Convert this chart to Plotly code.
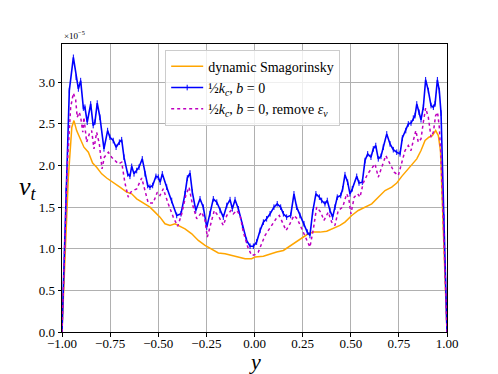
import plotly.graph_objects as go

# eddy viscosity profiles, values in units of 1e-5
y_dyn = [-1.0, -0.984, -0.967, -0.949, -0.938, -0.924, -0.906, -0.886, -0.863, -0.841,
         -0.820, -0.794, -0.768, -0.734, -0.699, -0.664, -0.638, -0.612, -0.578, -0.543,
         -0.517, -0.491, -0.465, -0.439, -0.413, -0.387, -0.361, -0.326, -0.292, -0.257,
         -0.222, -0.188, -0.153, -0.118, -0.084, -0.049, -0.015, 0.003, 0.046, 0.081,
         0.115, 0.150, 0.176, 0.202, 0.228, 0.254, 0.279, 0.306, 0.340, 0.375,
         0.409, 0.444, 0.470, 0.505, 0.539, 0.574, 0.609, 0.643, 0.678, 0.713,
         0.739, 0.765, 0.791, 0.817, 0.843, 0.865, 0.886, 0.906, 0.924, 0.941,
         0.955, 0.966, 0.976, 0.986, 1.0]
nu_dyn = [0.0, 0.98, 1.86, 2.46, 2.54, 2.42, 2.32, 2.22, 2.16, 2.03,
          1.98, 1.90, 1.85, 1.80, 1.74, 1.68, 1.66, 1.60, 1.55, 1.50,
          1.44, 1.38, 1.30, 1.28, 1.30, 1.27, 1.24, 1.18, 1.10, 1.04,
          0.99, 0.95, 0.94, 0.92, 0.90, 0.88, 0.88, 0.90, 0.91, 0.94,
          0.96, 0.98, 1.02, 1.06, 1.11, 1.15, 1.18, 1.20, 1.20, 1.21,
          1.24, 1.28, 1.32, 1.40, 1.46, 1.50, 1.54, 1.62, 1.70, 1.74,
          1.79, 1.87, 1.94, 2.00, 2.08, 2.18, 2.30, 2.34, 2.36, 2.42,
          2.36, 2.18, 1.58, 0.98, 0.0]

y_kc = [-1.0, -0.979, -0.962, -0.941, -0.927, -0.915, -0.903, -0.889, -0.881, -0.869,
        -0.851, -0.838, -0.829, -0.817, -0.803, -0.782, -0.763, -0.751, -0.734, -0.719,
        -0.702, -0.690, -0.678, -0.659, -0.647, -0.638, -0.626, -0.612, -0.600, -0.583,
        -0.569, -0.555, -0.543, -0.529, -0.512, -0.500, -0.490, -0.479, -0.456, -0.430,
        -0.404, -0.382, -0.361, -0.349, -0.335, -0.323, -0.305, -0.283, -0.266, -0.248,
        -0.231, -0.214, -0.196, -0.179, -0.162, -0.144, -0.127, -0.115, -0.101, -0.084,
        -0.063, -0.041, -0.023, -0.006, 0.011, 0.029, 0.046, 0.063, 0.081, 0.101,
        0.118, 0.136, 0.150, 0.167, 0.188, 0.205, 0.219, 0.236, 0.257, 0.274,
        0.288, 0.302, 0.319, 0.337, 0.349, 0.366, 0.378, 0.392, 0.406, 0.418,
        0.430, 0.448, 0.458, 0.470, 0.484, 0.496, 0.508, 0.531, 0.543, 0.560,
        0.574, 0.588, 0.605, 0.617, 0.630, 0.643, 0.657, 0.669, 0.687, 0.704,
        0.721, 0.739, 0.756, 0.768, 0.786, 0.799, 0.813, 0.825, 0.834, 0.843,
        0.855, 0.865, 0.877, 0.889, 0.903, 0.917, 0.929, 0.938, 0.950, 0.960,
        0.969, 0.976, 0.984, 0.993, 1.0]
nu_kc = [0.0, 1.70, 2.90, 3.30, 3.06, 2.92, 3.02, 2.69, 2.70, 2.52,
         2.74, 2.48, 2.52, 2.75, 2.58, 2.20, 2.42, 2.34, 2.30, 2.22,
         2.28, 2.31, 2.10, 1.90, 1.87, 1.99, 1.90, 1.94, 1.98, 2.08,
         1.90, 1.76, 1.74, 1.76, 1.87, 1.86, 1.80, 1.90, 1.74, 1.58,
         1.40, 1.42, 1.66, 1.85, 1.91, 1.68, 1.46, 1.60, 1.50, 1.26,
         1.42, 1.60, 1.56, 1.46, 1.38, 1.52, 1.59, 1.48, 1.59, 1.48,
         1.28, 1.10, 1.03, 1.03, 1.08, 1.22, 1.32, 1.36, 1.42, 1.50,
         1.54, 1.50, 1.42, 1.38, 1.40, 1.66, 1.50, 1.40, 1.30, 1.20,
         1.16, 1.44, 1.66, 1.62, 1.58, 1.54, 1.58, 1.46, 1.38, 1.50,
         1.62, 1.64, 1.72, 1.89, 1.80, 1.66, 1.72, 1.87, 1.79, 1.80,
         2.06, 2.14, 2.10, 2.20, 2.24, 2.08, 2.11, 2.22, 2.38, 2.26,
         2.19, 2.16, 2.14, 2.33, 2.42, 2.50, 2.51, 2.57, 2.60, 2.74,
         2.64, 2.55, 2.70, 3.03, 2.90, 2.72, 2.70, 2.74, 3.03, 2.90,
         2.63, 2.03, 1.38, 0.62, 0.0]

y_rm = [-1.0, -0.973, -0.955, -0.941, -0.929, -0.921, -0.910, -0.903, -0.892, -0.886,
        -0.872, -0.858, -0.846, -0.834, -0.820, -0.806, -0.792, -0.780, -0.759, -0.742,
        -0.725, -0.707, -0.690, -0.673, -0.656, -0.643, -0.630, -0.612, -0.586, -0.569,
        -0.552, -0.526, -0.505, -0.491, -0.474, -0.448, -0.422, -0.399, -0.378, -0.357,
        -0.340, -0.323, -0.300, -0.274, -0.257, -0.245, -0.226, -0.209, -0.184, -0.162,
        -0.144, -0.122, -0.110, -0.092, -0.075, -0.058, -0.035, -0.015, 0.003, 0.020,
        0.037, 0.055, 0.072, 0.089, 0.112, 0.129, 0.146, 0.164, 0.184, 0.205,
        0.222, 0.245, 0.268, 0.288, 0.306, 0.323, 0.344, 0.361, 0.383, 0.401,
        0.418, 0.435, 0.458, 0.479, 0.490, 0.501, 0.518, 0.536, 0.548, 0.565,
        0.588, 0.605, 0.626, 0.643, 0.661, 0.682, 0.704, 0.726, 0.747, 0.765,
        0.782, 0.799, 0.813, 0.825, 0.838, 0.851, 0.865, 0.877, 0.889, 0.903,
        0.917, 0.929, 0.941, 0.951, 0.960, 0.969, 0.978, 0.986, 1.0]
nu_rm = [0.0, 1.98, 2.70, 2.87, 2.79, 2.58, 2.64, 2.58, 2.40, 2.58,
         2.28, 2.38, 2.42, 2.20, 2.40, 2.26, 1.96, 2.10, 2.16, 2.10,
         2.06, 2.02, 2.04, 1.79, 1.62, 1.68, 1.70, 1.72, 1.85, 1.68,
         1.55, 1.55, 1.68, 1.64, 1.72, 1.54, 1.38, 1.27, 1.42, 1.64,
         1.74, 1.54, 1.36, 1.44, 1.34, 1.14, 1.30, 1.46, 1.38, 1.28,
         1.40, 1.46, 1.42, 1.46, 1.40, 1.20, 1.02, 0.92, 0.93, 0.96,
         1.06, 1.16, 1.22, 1.28, 1.36, 1.40, 1.32, 1.22, 1.30, 1.40,
         1.36, 1.24, 1.14, 1.02, 1.24, 1.50, 1.44, 1.34, 1.44, 1.32,
         1.28, 1.46, 1.50, 1.66, 1.60, 1.42, 1.62, 1.66, 1.62, 1.79,
         1.90, 1.96, 2.02, 1.86, 1.98, 2.12, 2.02, 1.92, 1.88, 2.04,
         2.18, 2.24, 2.18, 2.30, 2.42, 2.28, 2.32, 2.52, 2.69, 2.58,
         2.34, 2.40, 2.60, 2.64, 2.46, 2.10, 1.58, 0.98, 0.0]

serif = "Liberation Serif"

fig = go.Figure()
fig.add_trace(go.Scatter(x=y_dyn, y=nu_dyn, mode="lines", name="dynamic Smagorinsky",
                         line=dict(color="orange", width=1.5)))
fig.add_trace(go.Scatter(x=y_kc, y=nu_kc, mode="lines+markers",
                         name="½<i>k<sub>c</sub></i>, <i>b</i> = 0",
                         line=dict(color="blue", width=1.6),
                         marker=dict(symbol="line-ns", size=4, color="blue",
                                     line=dict(width=1, color="blue"))))
fig.add_trace(go.Scatter(x=y_rm, y=nu_rm, mode="lines",
                         name="½<i>k<sub>c</sub></i>, <i>b</i> = 0, remove <i>ε<sub>ν</sub></i>",
                         line=dict(color="#bf00bf", width=1.5, dash="dot")))

# page body adds an 8px offset, so margins are trimmed on the left/top
fig.update_layout(
    width=498, height=374,
    margin=dict(l=54, r=59, t=36, b=50),
    paper_bgcolor="white", plot_bgcolor="white",
    font=dict(family=serif, size=13, color="black"),
    showlegend=True,
    legend=dict(x=0.268, y=0.98, xanchor="left", yanchor="top",
                bgcolor="rgba(255,255,255,0.8)", bordercolor="#cccccc", borderwidth=1,
                font=dict(family=serif, size=14), tracegroupgap=0, itemwidth=32),
    xaxis=dict(range=[-1, 1], tickvals=[-1, -0.75, -0.5, -0.25, 0, 0.25, 0.5, 0.75, 1],
               tickformat=".2f", showgrid=True, gridcolor="#b0b0b0", gridwidth=0.8,
               showline=True, linecolor="black", linewidth=1, mirror=True,
               ticks="outside", ticklen=3.5, tickcolor="black", zeroline=False,
               ticklabelstandoff=-4, automargin=False),
    yaxis=dict(range=[0, 3.46], tickvals=[0, 0.5, 1, 1.5, 2, 2.5, 3],
               tickformat=".1f", showgrid=True, gridcolor="#b0b0b0", gridwidth=0.8,
               showline=True, linecolor="black", linewidth=1, mirror=True,
               ticks="outside", ticklen=3.5, tickcolor="black", zeroline=False,
               automargin=False),
)
# axis titles placed as annotations
fig.add_annotation(x=0.5, y=0, xref="paper", yref="paper", yshift=-15,
                   xanchor="center", yanchor="top", text="<i>y</i>",
                   showarrow=False, font=dict(size=22))
fig.add_annotation(x=0, y=0.5, xref="paper", yref="paper", xshift=-34,
                   xanchor="center", yanchor="middle", text="<i>ν<sub>t</sub></i>",
                   showarrow=False, font=dict(size=26))
fig.add_annotation(x=0, y=1, xref="paper", yref="paper", xanchor="left", yanchor="bottom",
                   text="×10<sup>−5</sup>", showarrow=False, font=dict(size=9), yshift=1)

fig.write_html("out.html")
